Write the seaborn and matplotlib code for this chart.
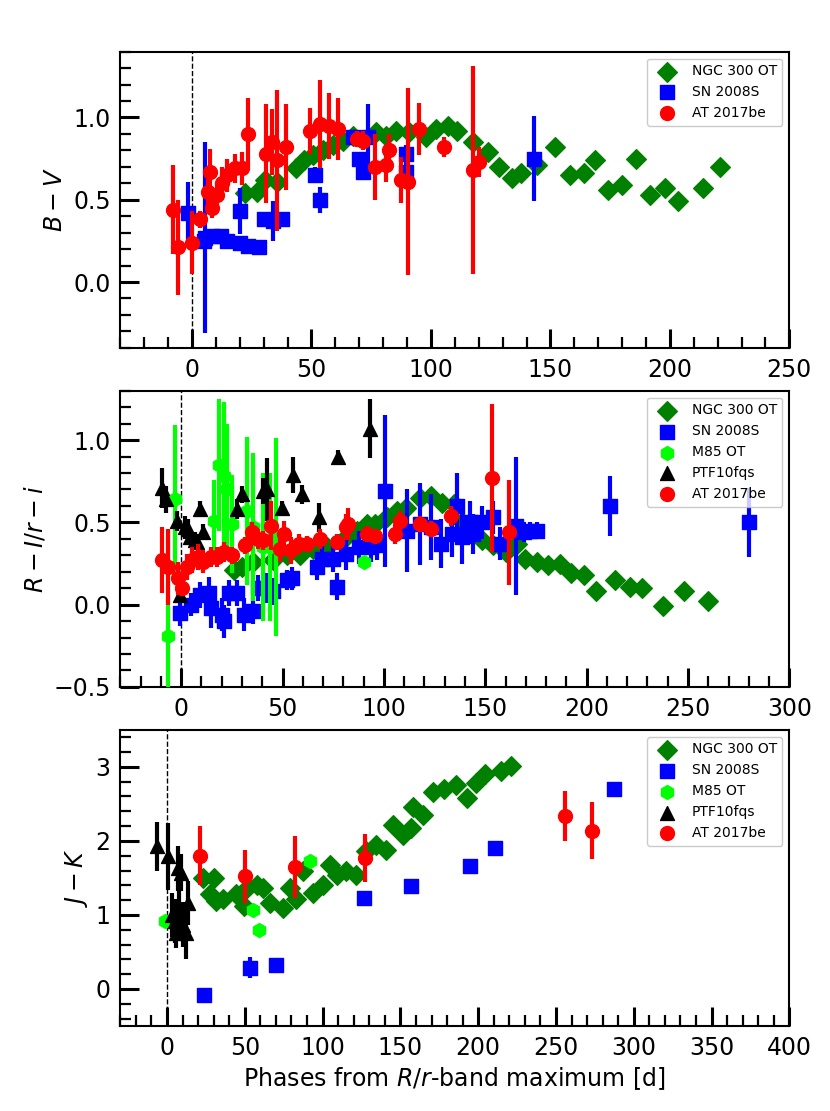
import numpy as np
import pandas as pd
import seaborn as sns
import matplotlib.pyplot as plt
from matplotlib.ticker import MultipleLocator

##===================B-V DATA===================##
bv_ngc_x = [22, 27, 30.5, 35.5, 43.5, 47, 50.5, 55, 59, 63, 67.5, 77, 81, 85.5, 91, 98, 102, 107,
            111, 117.5, 124, 128.5, 134, 137.5, 144.5, 152, 158, 164, 168.5, 174, 180, 186, 191.5,
            198, 203.5, 214, 221]
bv_ngc_y = [0.54, 0.55, 0.62, 0.61, 0.69, 0.74, 0.77, 0.80, 0.83, 0.86, 0.89, 0.91, 0.89, 0.92, 0.91,
            0.88, 0.93, 0.95, 0.92, 0.85, 0.79, 0.70, 0.63, 0.66, 0.71, 0.82, 0.65, 0.66, 0.74, 0.56,
            0.59, 0.75, 0.53, 0.57, 0.49, 0.57, 0.70]

bv_sn_x = [-1.5, 5, 5.5, 8.5, 12, 14.5, 20, 20, 23.5, 28, 30, 34, 37.5, 51.5, 53.5, 67.5, 70, 71.5,
           73.5, 89.5, 89.5, 143]
bv_sn_y = [0.42, 0.25, 0.27, 0.28, 0.28, 0.25, 0.43, 0.24, 0.22, 0.21, 0.38, 0.37, 0.38, 0.65, 0.50,
           0.88, 0.75, 0.67, 0.88, 0.78, 0.67, 0.75]
bv_sn_err = [0.19, 0.03, 0.58, 0.03, 0.03, 0.03, 0.14, 0.03, 0.03, 0.03, 0.03, 0.12, 0.03, 0.05,
             0.08, 0.04, 0.04, 0.05, 0.2, 0.05, 0.06, 0.26]

bv_at_x = [-8, -6, 0, 3.5, 6.5, 7.5, 8.5, 10.5, 12.5, 14.5, 18, 21, 23.5, 31, 33.5, 35.5, 39.5,
           49.5, 53.5, 57.5, 61, 69, 71.5, 76.5, 81, 82.5, 87.5, 90.5, 95, 105.5, 117.5, 120]
bv_at_y = [0.44, 0.21, 0.24, 0.38, 0.55, 0.67, 0.45, 0.53, 0.60, 0.65, 0.69, 0.69, 0.90, 0.78,
           0.85, 0.74, 0.82, 0.92, 0.96, 0.95, 0.93, 0.87, 0.86, 0.70, 0.71, 0.80, 0.62, 0.61,
           0.93, 0.82, 0.68, 0.73]
bv_at_err = [0.27, 0.29, 0.19, 0.05, 0.1, 0.14, 0.06, 0.08, 0.1, 0.1, 0.09, 0.1, 0.22, 0.3, 0.2,
             0.43, 0.26, 0.14, 0.27, 0.2, 0.19, 0.05, 0.06, 0.2, 0.1, 0.1, 0.14, 0.57, 0.16, 0.06,
             0.63, 0.09]

##===================R-I / r-i DATA===================##
ri_ngc_x = [26, 30, 35.5, 45.5, 52, 58.5, 65, 72, 81.5, 86.5, 91.5, 95.5, 101.5, 106.5, 111, 118,
            123, 128.5, 134.5, 138.5, 148.5, 154, 160, 165.5, 169.5, 175.5, 181, 187, 192.5, 198.5,
            204.5, 214, 221.5, 227.5, 237.5, 248, 260]
ri_ngc_y = [0.21, 0.23, 0.26, 0.27, 0.30, 0.30, 0.34, 0.35, 0.41, 0.45, 0.49, 0.49, 0.53, 0.57,
            0.59, 0.65, 0.66, 0.62, 0.61, 0.50, 0.39, 0.36, 0.32, 0.37, 0.28, 0.26, 0.24, 0.25,
            0.19, 0.18, 0.08, 0.15, 0.11, 0.10, -0.01, 0.08, 0.02]

ri_sn_x = [-0.5, 5, 9.5, 13.5, 14.5, 20, 21, 23.5, 27.5, 31, 35.5, 38, 42.5, 45.5, 52, 54.5, 67,
           69.5, 75, 77, 81.5, 87.5, 93.5, 96.5, 100.5, 111.5, 118, 123, 128, 133.5, 136, 138.5,
           142.5, 144, 148.5, 154, 157.5, 165, 169, 172, 175.5, 211.5, 280]
ri_sn_y = [-0.05, 0.00, 0.06, 0.07, -0.02, -0.06, -0.10, 0.07, 0.07, -0.06, -0.04, 0.10, 0.10,
           0.08, 0.15, 0.16, 0.23, 0.28, 0.28, 0.11, 0.31, 0.35, 0.35, 0.36, 0.69, 0.45, 0.49,
           0.47, 0.37, 0.43, 0.60, 0.41, 0.50, 0.43, 0.50, 0.53, 0.37, 0.48, 0.44, 0.45, 0.45,
           0.60, 0.50]
ri_sn_err = [0.08, 0.07, 0.08, 0.1, 0.12, 0.1, 0.1, 0.08, 0.08, 0.1, 0.08, 0.08, 0.09, 0.08, 0.06,
             0.07, 0.08, 0.1, 0.08, 0.08, 0.1, 0.1, 0.09, 0.09, 0.46, 0.25, 0.25, 0.2, 0.15, 0.14,
             0.2, 0.16, 0.13, 0.12, 0.1, 0.1, 0.1, 0.42, 0.06, 0.05, 0.05, 0.18, 0.21]

ri_m85_x = [-6.5, -3, 16, 18.5, 21, 22.5, 25, 32.5, 35.5, 40.5, 44, 47, 90]
ri_m85_y = [-0.19, 0.64, 0.51, 0.85, 0.78, 0.70, 0.49, 0.57, 0.47, 0.35, 0.35, 0.41, 0.26]
ri_m85_err = [0.65, 0.45, 0.25, 0.4, 0.45, 0.4, 0.3, 0.45, 0.45, 0.45, 0.45, 0.6, 0.03]

ri_ptf_x = [-9.5, -7.5, -2, -0.5, 2, 3.5, 4.5, 7, 8, 9.5, 11, 27.5, 30, 40.5, 42.5, 49.5, 55, 59.5,
            68, 77.5, 93]
ri_ptf_y = [0.71, 0.64, 0.51, 0.06, 0.47, 0.46, 0.41, 0.39, 0.38, 0.58, 0.44, 0.58, 0.67, 0.69,
            0.70, 0.59, 0.79, 0.67, 0.53, 0.90, 1.07]
ri_ptf_err = [0.12, 0.08, 0.06, 0.03, 0.07, 0.06, 0.05, 0.05, 0.05, 0.05, 0.05, 0.06, 0.05, 0.08,
              0.19, 0.04, 0.11, 0.06, 0.09, 0.04, 0.18]

ri_at_x = [-9.5, -6.5, -1.5, 0.5, 3, 5.5, 8.5, 11, 14.5, 17.5, 21, 25, 31.5, 35, 38, 40.5, 44.5,
           49, 50.5, 54, 58, 62, 68.5, 77, 81.5, 82.5, 91.5, 95.5, 105.5, 108, 118, 123, 133,
           153.5, 161.5]
ri_at_y = [0.27, 0.23, 0.16, 0.10, 0.23, 0.27, 0.29, 0.26, 0.29, 0.29, 0.32, 0.30, 0.36, 0.44,
           0.40, 0.39, 0.48, 0.34, 0.43, 0.33, 0.37, 0.37, 0.40, 0.38, 0.47, 0.49, 0.43, 0.42,
           0.43, 0.51, 0.49, 0.46, 0.54, 0.77, 0.44]
ri_at_err = [0.2, 0.23, 0.1, 0.05, 0.08, 0.08, 0.08, 0.07, 0.06, 0.06, 0.06, 0.05, 0.05, 0.06,
             0.06, 0.06, 0.15, 0.08, 0.08, 0.08, 0.06, 0.05, 0.06, 0.05, 0.08, 0.1, 0.05, 0.04,
             0.06, 0.06, 0.05, 0.05, 0.06, 0.45, 0.32]

##===================J-K DATA===================##
jk_ngc_x = [23, 27.5, 30.5, 31.5, 36, 44.5, 49.5, 51.5, 58, 61.5, 66, 74.5, 79, 83, 87.5, 94, 100,
            104.5, 109, 115, 121.5, 128, 134.5, 141, 145, 151.5, 157, 158, 164.5, 171, 178, 186,
            192.5, 198.5, 204.5, 214.5, 221]
jk_ngc_y = [1.50, 1.28, 1.50, 1.19, 1.21, 1.28, 1.12, 1.36, 1.41, 1.36, 1.16, 1.10, 1.36, 1.21,
            1.59, 1.30, 1.41, 1.68, 1.54, 1.59, 1.54, 1.86, 1.95, 1.88, 2.22, 2.08, 2.17, 2.46,
            2.35, 2.66, 2.70, 2.75, 2.58, 2.78, 2.90, 2.94, 3.01]

jk_sn_x = [23.5, 53.5, 70, 126.5, 156.5, 194.5, 211, 287]
jk_sn_y = [-0.08, 0.29, 0.33, 1.23, 1.39, 1.66, 1.91, 2.70]
jk_sn_err = [0.08, 0.14, 0.06, 0.04, 0.03, 0.07, 0.09, 0.04]

jk_m85_x = [-1, 55.5, 59, 92]
jk_m85_y = [0.92, 1.07, 0.80, 1.73]

jk_ptf_x = [-6.5, 0.5, 3, 5, 6, 7, 8, 9, 10.5, 12, 13.5]
jk_ptf_y = [1.93, 1.79, 1.00, 0.92, 0.75, 1.63, 1.05, 1.57, 0.87, 0.76, 1.16]
jk_ptf_err = [0.33, 0.45, 0.3, 0.3, 0.2, 0.3, 0.35, 0.25, 0.3, 0.35, 0.3]

jk_at_x = [21, 50, 82, 127.5, 256, 273]
jk_at_y = [1.80, 1.52, 1.65, 1.77, 2.34, 2.14]
jk_at_err = [0.4, 0.36, 0.42, 0.33, 0.34, 0.39]

##===================STYLE===================##
sns.set_style("ticks")
plt.rcParams['font.family'] = ['DejaVu Sans']
plt.rcParams['mathtext.fontset'] = 'dejavusans'
plt.rcParams['axes.linewidth'] = 1.5
for key in ['axes.edgecolor', 'axes.labelcolor', 'xtick.color', 'ytick.color', 'text.color']:
    plt.rcParams[key] = 'black'

# name, marker, colour for every object (legend order)
objs = {"NGC 300 OT": ("D", "green"),
        "SN 2008S": ("s", "blue"),
        "M85 OT": ("h", "lime"),
        "PTF10fqs": ("^", "black"),
        "AT 2017be": ("o", "red")}


def draw(ax, name, x, y, err=None):
    marker, color = objs[name]
    z = list(objs).index(name) * 2 + 2
    if err is not None:
        ax.errorbar(x, y, yerr=err, fmt="none", ecolor=color, elinewidth=3, capsize=0, zorder=z)
    df = pd.DataFrame({"x": x, "y": y})
    sns.scatterplot(data=df, x="x", y="y", ax=ax, marker=marker, color=color, s=100,
                    edgecolor=color, linewidth=1, label=name, zorder=z + 1)


fig, axes = plt.subplots(3, 1, figsize=(8.3, 11.11), dpi=100)
fig.subplots_adjust(left=0.145, right=0.951, top=0.9535, bottom=0.0765, hspace=0.145)

ax = axes[0]
draw(ax, "NGC 300 OT", bv_ngc_x, bv_ngc_y)
draw(ax, "SN 2008S", bv_sn_x, bv_sn_y, bv_sn_err)
draw(ax, "AT 2017be", bv_at_x, bv_at_y, bv_at_err)
ax.set_xlim(-30, 250)
ax.set_ylim(-0.4, 1.4)
ax.yaxis.set_major_locator(MultipleLocator(0.5))
ax.yaxis.set_minor_locator(MultipleLocator(0.1))
ax.set_ylabel("$B-V$")

ax = axes[1]
draw(ax, "NGC 300 OT", ri_ngc_x, ri_ngc_y)
draw(ax, "SN 2008S", ri_sn_x, ri_sn_y, ri_sn_err)
draw(ax, "M85 OT", ri_m85_x, ri_m85_y, ri_m85_err)
draw(ax, "PTF10fqs", ri_ptf_x, ri_ptf_y, ri_ptf_err)
draw(ax, "AT 2017be", ri_at_x, ri_at_y, ri_at_err)
ax.set_xlim(-30, 300)
ax.set_ylim(-0.5, 1.3)
ax.yaxis.set_major_locator(MultipleLocator(0.5))
ax.yaxis.set_minor_locator(MultipleLocator(0.1))
ax.set_ylabel("$R-I/r-i$")

ax = axes[2]
draw(ax, "NGC 300 OT", jk_ngc_x, jk_ngc_y)
draw(ax, "SN 2008S", jk_sn_x, jk_sn_y, jk_sn_err)
draw(ax, "M85 OT", jk_m85_x, jk_m85_y)
draw(ax, "PTF10fqs", jk_ptf_x, jk_ptf_y, jk_ptf_err)
draw(ax, "AT 2017be", jk_at_x, jk_at_y, jk_at_err)
ax.set_xlim(-30, 400)
ax.set_ylim(-0.5, 3.5)
ax.yaxis.set_major_locator(MultipleLocator(1))
ax.yaxis.set_minor_locator(MultipleLocator(0.2))
ax.set_ylabel("$J-K$")
ax.set_xlabel("Phases from $R/r$-band maximum [d]")

for ax in axes:
    ax.axvline(0, color="black", ls="--", lw=1, zorder=1)
    ax.xaxis.set_major_locator(MultipleLocator(50))
    ax.xaxis.set_minor_locator(MultipleLocator(10))
    ax.tick_params(which="both", direction="in", labelsize=17, pad=7, color="black")
    ax.tick_params(which="major", length=14, width=2.2)
    ax.tick_params(which="minor", length=8, width=1.6)
    ax.yaxis.label.set_size(17)
    ax.xaxis.label.set_size(17)
    if ax is not axes[2]:
        ax.set_xlabel("")
    ax.legend(loc="upper right", fontsize=10, edgecolor="0.75")

fig.savefig("out.png", dpi=100)
